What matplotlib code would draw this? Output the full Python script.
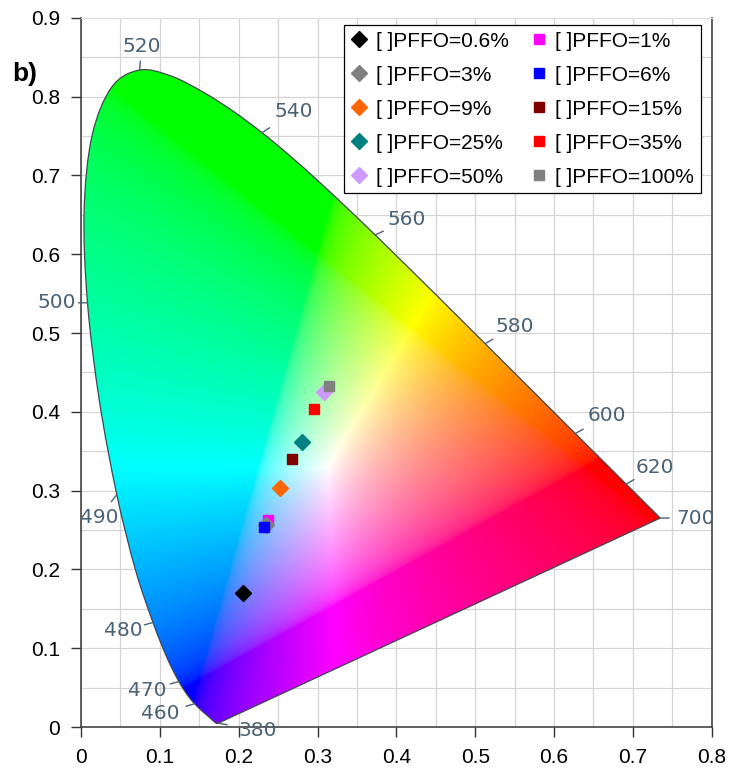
"""
CIE 1931 chromaticity diagram with the PFFO blend colour points.
"""
import numpy as np
import matplotlib
matplotlib.use('Agg')
import matplotlib.pyplot as plt
from matplotlib.patches import PathPatch
from matplotlib.path import Path

# CIE 1931 2 deg spectral locus, 380-700 nm
wavelengths = [380, 385, 390, 395, 400, 405, 410, 415, 420, 425, 430, 435,
               440, 445, 450, 455, 460, 465, 470, 475, 480, 485, 490, 495,
               500, 505, 510, 515, 520, 525, 530, 535, 540, 545, 550, 555,
               560, 565, 570, 575, 580, 585, 590, 595, 600, 605, 610, 615,
               620, 625, 630, 635, 640, 645, 650, 655, 660, 665, 670, 680,
               690, 700]
locus_x = [0.1741, 0.1740, 0.1738, 0.1736, 0.1733, 0.1730, 0.1726, 0.1721,
           0.1714, 0.1703, 0.1689, 0.1669, 0.1644, 0.1611, 0.1566, 0.1510,
           0.1440, 0.1355, 0.1241, 0.1096, 0.0913, 0.0687, 0.0454, 0.0235,
           0.0082, 0.0039, 0.0139, 0.0389, 0.0743, 0.1142, 0.1547, 0.1929,
           0.2296, 0.2658, 0.3016, 0.3373, 0.3731, 0.4087, 0.4441, 0.4788,
           0.5125, 0.5448, 0.5752, 0.6029, 0.6270, 0.6482, 0.6658, 0.6801,
           0.6915, 0.7006, 0.7079, 0.7140, 0.7190, 0.7230, 0.7260, 0.7283,
           0.7300, 0.7311, 0.7320, 0.7334, 0.7344, 0.7347]
locus_y = [0.0050, 0.0050, 0.0049, 0.0049, 0.0048, 0.0048, 0.0048, 0.0048,
           0.0051, 0.0058, 0.0069, 0.0086, 0.0109, 0.0138, 0.0177, 0.0227,
           0.0297, 0.0399, 0.0578, 0.0868, 0.1327, 0.2007, 0.2950, 0.4127,
           0.5384, 0.6548, 0.7502, 0.8120, 0.8338, 0.8262, 0.8059, 0.7816,
           0.7543, 0.7243, 0.6923, 0.6589, 0.6245, 0.5896, 0.5547, 0.5202,
           0.4866, 0.4544, 0.4242, 0.3965, 0.3725, 0.3514, 0.3340, 0.3197,
           0.3083, 0.2993, 0.2920, 0.2859, 0.2809, 0.2770, 0.2740, 0.2717,
           0.2700, 0.2689, 0.2680, 0.2666, 0.2656, 0.2653]

# wavelength labels and where they sit (offset in pixels from the locus)
label_wl = [380, 460, 470, 480, 490, 500, 520, 540, 560, 580, 600, 620, 700]
label_off = [(39, -7), (-34, -10), (-32, -9), (-30, -8), (-18, -23), (-31, 0),
             (2, 24), (32, 21), (32, 15), (30, 17), (32, 18), (29, 17), (35, 0)]

# measured colour coordinates
samples = ['0.6%', '1%', '3%', '6%', '9%', '15%', '25%', '35%', '50%', '100%']
cie_x = [0.205, 0.237, 0.235, 0.232, 0.253, 0.268, 0.280, 0.296, 0.308, 0.314]
cie_y = [0.170, 0.263, 0.256, 0.254, 0.303, 0.340, 0.362, 0.404, 0.425, 0.433]
marks = ['D', 's', 'D', 's', 'D', 's', 'D', 's', 'D', 's']
point_colors = ['black', '#ff00ff', '#808080', '#0000ff', '#ff6600',
                '#800000', '#008080', '#ff0000', '#cc99ff', '#808080']

plt.rcParams['font.family'] = ['Liberation Sans', 'DejaVu Sans']

fig = plt.figure(figsize=(7.3, 7.76), dpi=100)
ax = fig.add_axes([0.111, 0.063, 0.864, 0.914])
ax.set_xlim(0, 0.8)
ax.set_ylim(0, 0.9)

# smooth outline through the locus points (Catmull-Rom as cubic Bezier)
pts = np.column_stack([locus_x, locus_y])
ext = np.vstack([pts[0], pts, pts[-1]])
verts = [pts[0]]
codes = [Path.MOVETO]
for i in range(1, len(ext) - 2):
    p0, p1, p2, p3 = ext[i - 1], ext[i], ext[i + 1], ext[i + 2]
    verts += [p1 + (p2 - p0) / 6, p2 - (p3 - p1) / 6, p2]
    codes += [Path.CURVE4] * 3
verts += [pts[0], pts[0]]
codes += [Path.LINETO, Path.CLOSEPOLY]
outline = Path(np.array(verts), codes)

# colour fill: xy -> sRGB, brightest possible
gx, gy = np.meshgrid(np.linspace(0, 0.8, 640), np.linspace(0.001, 0.9, 720))
X = gx / gy
Z = (1 - gx - gy) / gy
M = np.array([[3.2406, -1.5372, -0.4986],
              [-0.9689, 1.8758, 0.0415],
              [0.0557, -0.2040, 1.0570]])
rgb = np.stack([M[i, 0] * X + M[i, 1] + M[i, 2] * Z for i in range(3)], axis=-1)
rgb = np.clip(rgb, 0, None)
rgb = rgb / rgb.max(axis=-1, keepdims=True)
rgb = rgb ** (1 / 2.2)

patch = PathPatch(outline, facecolor='none', edgecolor='#404850', lw=0.9, zorder=3)
ax.add_patch(patch)
img = ax.imshow(rgb, extent=(0, 0.8, 0.001, 0.9), origin='lower',
                aspect='auto', interpolation='bilinear', zorder=2)
img.set_clip_path(patch)

# grid every 0.05
ax.set_xticks(np.arange(0, 0.81, 0.05), minor=True)
ax.set_yticks(np.arange(0, 0.91, 0.05), minor=True)
ax.grid(True, which='both', color='#d4d4d4', lw=0.9, zorder=0)
ax.set_axisbelow(True)

ax.set_xticks(np.arange(0, 0.81, 0.1))
ax.set_yticks(np.arange(0, 0.91, 0.1))
ax.set_xticklabels(['0', '0.1', '0.2', '0.3', '0.4', '0.5', '0.6', '0.7', '0.8'])
ax.set_yticklabels(['0', '0.1', '0.2', '0.3', '0.4', '0.5', '0.6', '0.7', '0.8', '0.9'])
ax.tick_params(which='major', labelsize=15, length=7, width=1, color='#333333', pad=8)
ax.tick_params(which='minor', length=0)
for side in ['left', 'bottom', 'right']:
    ax.spines[side].set_color('#444444')
    ax.spines[side].set_linewidth(1.2)
ax.spines['top'].set_color('#dddddd')

# wavelength ticks and labels
lab_col = '#4a6275'
for wl, (dx, dy) in zip(label_wl, label_off):
    i = wavelengths.index(wl)
    px, py = locus_x[i], locus_y[i]
    n = np.hypot(dx, dy)
    ax.annotate('', xy=(px, py), xytext=(dx / n * 9, dy / n * 9),
                textcoords='offset pixels', zorder=4, annotation_clip=False,
                arrowprops=dict(arrowstyle='-', color=lab_col, lw=1,
                                shrinkA=0, shrinkB=0))
    ax.annotate(str(wl), xy=(px, py), xytext=(dx, dy), textcoords='offset pixels',
                ha='center', va='center', fontsize=14.5, color=lab_col,
                family='DejaVu Sans', zorder=4, annotation_clip=False)

handles = []
for i in range(len(samples)):
    size = 8 if marks[i] == 'D' else 6.5
    h, = ax.plot(cie_x[i], cie_y[i], ls='none', marker=marks[i], ms=size,
                 color=point_colors[i], mec=point_colors[i],
                 label='[ ]PFFO=' + samples[i], zorder=5 + i)
    handles.append(h)

order = handles[0::2] + handles[1::2]
leg = ax.legend(handles=order, ncol=2, loc='upper right',
                bbox_to_anchor=(0.983, 0.99), fontsize=15, frameon=True,
                fancybox=False, edgecolor='black', framealpha=1,
                borderaxespad=0, handlelength=0.8, handletextpad=0.4,
                columnspacing=1.05, labelspacing=0.72, borderpad=0.32)
leg.get_frame().set_linewidth(0.9)
leg.set_zorder(20)

fig.text(0.034, 0.905, 'b)', fontsize=19, fontweight='bold', ha='center', va='center')

fig.savefig('out.png', dpi=100)
